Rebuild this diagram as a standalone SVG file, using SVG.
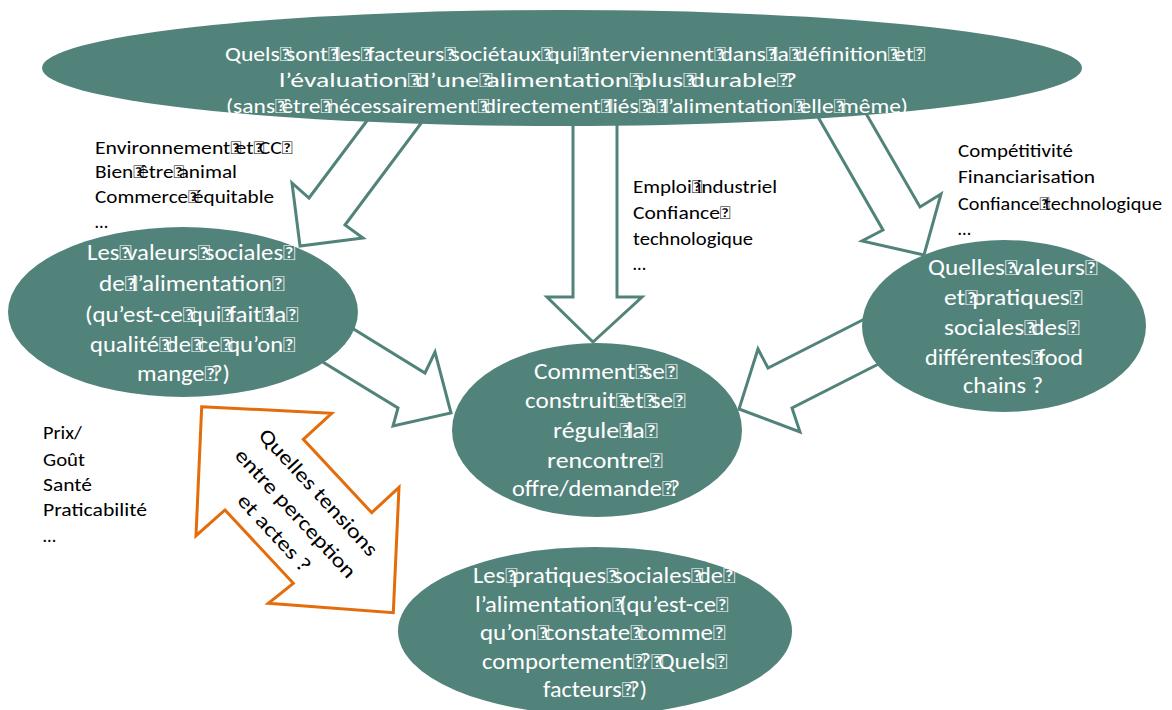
<svg xmlns="http://www.w3.org/2000/svg" width="1172" height="710" viewBox="0 0 1172 710">
<style>
.ell{fill:#52837B}
.arr{fill:#fff;stroke:#52837B;stroke-width:3;stroke-linejoin:miter}
.orn{fill:#fff;stroke:#E46C0A;stroke-width:3;stroke-linejoin:miter}
.w{fill:#fff;font-family:Carlito,Calibri,Lato,"Open Sans",sans-serif;font-size:22px}
.wt{fill:#fff;font-family:Carlito,Calibri,Lato,"Open Sans",sans-serif;font-size:21px}
.b{fill:#000;font-family:Carlito,Calibri,Lato,"Open Sans",sans-serif;font-size:18.5px}
.o{fill:#000;font-family:Carlito,Calibri,Lato,"Open Sans",sans-serif;font-size:20.5px}
.t{letter-spacing:-5px}
</style>
<rect width="1172" height="710" fill="#fff"/>
<g id="connectors">
<polygon class="arr" points="375,110 309,198 292,183 300,246 363,238 345,225 431,110"/>
<polygon class="arr" points="573,110 573,297 547,297 593,342 642,297 617,297 617,110"/>
<polygon class="arr" points="814,110 883,230 862,241 924,255 941,194 920,207 864,110"/>
<polygon class="arr" points="300,296 425,373 435,352 451,413 393,426 398,408 290,342"/>
<polygon class="arr" points="900,301 768,368 758,349 739,409 800,432 792,408 910,348"/>
</g>
<g id="tension-arrow">
<polygon class="orn" points="201.7,406.7 331.7,413.3 303.3,439.3 371.7,512.7 399,487.3 393.3,612.7 268.3,603.3 293.3,583.3 225,510 196,535.7"/>
<g transform="translate(297,510) rotate(47.3)">
<text class="o" x="1.5" y="-21" text-anchor="middle" textLength="165" lengthAdjust="spacingAndGlyphs">Quelles tensions</text>
<text class="o" x="1.5" y="10" text-anchor="middle" textLength="168" lengthAdjust="spacingAndGlyphs">entre perception</text>
<text class="o" x="1.5" y="39" text-anchor="middle" textLength="98" lengthAdjust="spacingAndGlyphs">et actes ?</text>
</g>
</g>
<g id="node-top">
<ellipse class="ell" cx="562" cy="68" rx="520" ry="58"/>
<text class="wt" x="225" y="61" textLength="695" lengthAdjust="spacingAndGlyphs">Quels<tspan class="t">&#xF020;</tspan>sont<tspan class="t">&#xF020;</tspan>les<tspan class="t">&#xF020;</tspan>facteurs<tspan class="t">&#xF020;</tspan>sociétaux<tspan class="t">&#xF020;</tspan>qui<tspan class="t">&#xF020;</tspan>interviennent<tspan class="t">&#xF020;</tspan>dans<tspan class="t">&#xF020;</tspan>la<tspan class="t">&#xF020;</tspan>définition<tspan class="t">&#xF020;</tspan>et<tspan class="t">&#xF020;</tspan></text>
<text class="wt" x="279" y="87" textLength="518" lengthAdjust="spacingAndGlyphs">l’évaluation<tspan class="t">&#xF020;</tspan>d’une<tspan class="t">&#xF020;</tspan>alimentation<tspan class="t">&#xF020;</tspan>plus<tspan class="t">&#xF020;</tspan>durable<tspan class="t">&#xF020;</tspan>?</text>
<text class="wt" x="226" y="113" textLength="682" lengthAdjust="spacingAndGlyphs">(sans<tspan class="t">&#xF020;</tspan>être<tspan class="t">&#xF020;</tspan>nécessairement<tspan class="t">&#xF020;</tspan>directement<tspan class="t">&#xF020;</tspan>liés<tspan class="t">&#xF020;</tspan>à<tspan class="t">&#xF020;</tspan>l’alimentation<tspan class="t">&#xF020;</tspan>elle<tspan class="t">&#xF020;</tspan>même)</text>
</g>
<g id="node-valeurs">
<ellipse class="ell" cx="183" cy="312" rx="175" ry="85"/>
<text class="w" x="87" y="260" textLength="203" lengthAdjust="spacingAndGlyphs">Les<tspan class="t">&#xF020;</tspan>valeurs<tspan class="t">&#xF020;</tspan>sociales<tspan class="t">&#xF020;</tspan></text>
<text class="w" x="99" y="291" textLength="180" lengthAdjust="spacingAndGlyphs">de<tspan class="t">&#xF020;</tspan>l’alimentation<tspan class="t">&#xF020;</tspan></text>
<text class="w" x="85" y="322" textLength="208" lengthAdjust="spacingAndGlyphs">(qu’est-ce<tspan class="t">&#xF020;</tspan>qui<tspan class="t">&#xF020;</tspan>fait<tspan class="t">&#xF020;</tspan>la<tspan class="t">&#xF020;</tspan></text>
<text class="w" x="90" y="352" textLength="200" lengthAdjust="spacingAndGlyphs">qualité<tspan class="t">&#xF020;</tspan>de<tspan class="t">&#xF020;</tspan>ce<tspan class="t">&#xF020;</tspan>qu’on<tspan class="t">&#xF020;</tspan></text>
<text class="w" x="137" y="381" textLength="93" lengthAdjust="spacingAndGlyphs">mange<tspan class="t">&#xF020;</tspan>?)</text>
</g>
<g id="node-foodchains">
<ellipse class="ell" cx="1004" cy="326" rx="142" ry="86"/>
<text class="w" x="928" y="275" textLength="164" lengthAdjust="spacingAndGlyphs">Quelles<tspan class="t">&#xF020;</tspan>valeurs<tspan class="t">&#xF020;</tspan></text>
<text class="w" x="944" y="305" textLength="133" lengthAdjust="spacingAndGlyphs">et<tspan class="t">&#xF020;</tspan>pratiques<tspan class="t">&#xF020;</tspan></text>
<text class="w" x="944" y="335" textLength="130" lengthAdjust="spacingAndGlyphs">sociales<tspan class="t">&#xF020;</tspan>des<tspan class="t">&#xF020;</tspan></text>
<text class="w" x="925" y="365" textLength="158" lengthAdjust="spacingAndGlyphs">différentes<tspan class="t">&#xF020;</tspan>food</text>
<text class="w" x="963" y="393" textLength="80" lengthAdjust="spacingAndGlyphs">chains ?</text>
</g>
<g id="node-rencontre">
<ellipse class="ell" cx="597" cy="430" rx="145" ry="87"/>
<text class="w" x="534" y="379" textLength="138" lengthAdjust="spacingAndGlyphs">Comment<tspan class="t">&#xF020;</tspan>se<tspan class="t">&#xF020;</tspan></text>
<text class="w" x="525" y="408" textLength="155" lengthAdjust="spacingAndGlyphs">construit<tspan class="t">&#xF020;</tspan>et<tspan class="t">&#xF020;</tspan>se<tspan class="t">&#xF020;</tspan></text>
<text class="w" x="553" y="438" textLength="99" lengthAdjust="spacingAndGlyphs">régule<tspan class="t">&#xF020;</tspan>la<tspan class="t">&#xF020;</tspan></text>
<text class="w" x="547" y="468" textLength="110" lengthAdjust="spacingAndGlyphs">rencontre<tspan class="t">&#xF020;</tspan></text>
<text class="w" x="512" y="496" textLength="168" lengthAdjust="spacingAndGlyphs">offre/demande<tspan class="t">&#xF020;</tspan>?</text>
</g>
<g id="node-pratiques">
<ellipse class="ell" cx="595" cy="631" rx="197" ry="84"/>
<text class="w" x="473" y="583" textLength="257" lengthAdjust="spacingAndGlyphs">Les<tspan class="t">&#xF020;</tspan>pratiques<tspan class="t">&#xF020;</tspan>sociales<tspan class="t">&#xF020;</tspan>de<tspan class="t">&#xF020;</tspan></text>
<text class="w" x="475" y="612" textLength="248" lengthAdjust="spacingAndGlyphs">l’alimentation<tspan class="t">&#xF020;</tspan>(qu’est-ce<tspan class="t">&#xF020;</tspan></text>
<text class="w" x="480" y="640" textLength="240" lengthAdjust="spacingAndGlyphs">qu’on<tspan class="t">&#xF020;</tspan>constate<tspan class="t">&#xF020;</tspan>comme<tspan class="t">&#xF020;</tspan></text>
<text class="w" x="482" y="669" textLength="240" lengthAdjust="spacingAndGlyphs">comportement<tspan class="t">&#xF020;</tspan>?<tspan class="t">&#xF020;</tspan>Quels<tspan class="t">&#xF020;</tspan></text>
<text class="w" x="543" y="697" textLength="104" lengthAdjust="spacingAndGlyphs">facteurs<tspan class="t">&#xF020;</tspan>?)</text>
</g>
<g id="label-env">
<text class="b" x="95" y="154" textLength="192" lengthAdjust="spacingAndGlyphs">Environnement<tspan class="t">&#xF020;</tspan>et<tspan class="t">&#xF020;</tspan>CC<tspan class="t">&#xF020;</tspan></text>
<text class="b" x="95" y="178" textLength="142" lengthAdjust="spacingAndGlyphs">Bien<tspan class="t">&#xF020;</tspan>être<tspan class="t">&#xF020;</tspan>animal</text>
<text class="b" x="95" y="203" textLength="179" lengthAdjust="spacingAndGlyphs">Commerce<tspan class="t">&#xF020;</tspan>équitable</text>
<text class="b" x="95" y="228">…</text>
</g>
<g id="label-emploi">
<text class="b" x="633" y="193" textLength="144" lengthAdjust="spacingAndGlyphs">Emploi<tspan class="t">&#xF020;</tspan>industriel</text>
<text class="b" x="633" y="219" textLength="92" lengthAdjust="spacingAndGlyphs">Confiance<tspan class="t">&#xF020;</tspan></text>
<text class="b" x="633" y="245" textLength="120" lengthAdjust="spacingAndGlyphs">technologique</text>
<text class="b" x="633" y="270">…</text>
</g>
<g id="label-compet">
<text class="b" x="958" y="157" textLength="115" lengthAdjust="spacingAndGlyphs">Compétitivité</text>
<text class="b" x="958" y="183" textLength="137" lengthAdjust="spacingAndGlyphs">Financiarisation</text>
<text class="b" x="958" y="210" textLength="204" lengthAdjust="spacingAndGlyphs">Confiance<tspan class="t">&#xF020;</tspan>technologique</text>
<text class="b" x="958" y="235">…</text>
</g>
<g id="label-prix">
<text class="b" x="43" y="439" textLength="39" lengthAdjust="spacingAndGlyphs">Prix/</text>
<text class="b" x="43" y="466" textLength="42" lengthAdjust="spacingAndGlyphs">Goût</text>
<text class="b" x="43" y="491" textLength="49" lengthAdjust="spacingAndGlyphs">Santé</text>
<text class="b" x="43" y="516" textLength="104" lengthAdjust="spacingAndGlyphs">Praticabilité</text>
<text class="b" x="43" y="542">…</text>
</g>
</svg>
